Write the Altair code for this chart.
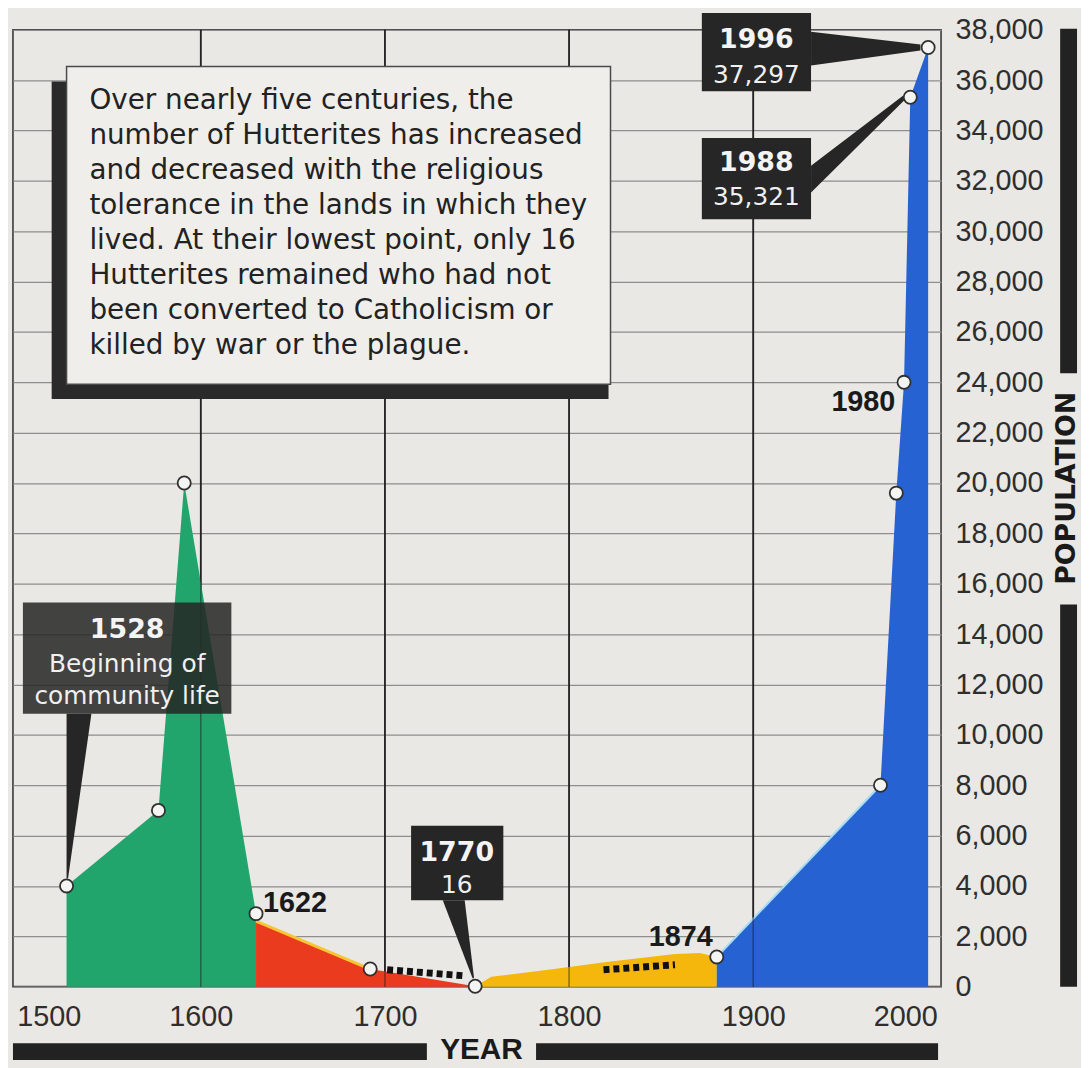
import altair as alt
import pandas as pd

# ---------------- values ----------------
green_year = [1527.1, 1577.0, 1591.0, 1630.0]
green_pop = [4000, 7000, 20000, 2900]

red_year = [1630.0, 1692.0, 1749.0]
red_pop = [2600, 700, 16]

yellow_year = [1749.0, 1757.8, 1792.9, 1821.4, 1857.5, 1871.0, 1880.2]
yellow_pop = [16, 390, 710, 985, 1300, 1340, 1180]

blue_year = [1880.2, 1969.1, 1977.7, 1981.9, 1985.3, 1995.0]
blue_pop = [1180, 8000, 19600, 24000, 35321, 37297]

marker_year = [1527.1, 1577.0, 1591.0, 1630.0, 1692.0, 1749.0,
               1880.2, 1969.1, 1977.7, 1981.9, 1985.3, 1995.0]
marker_pop = [4000, 7000, 20000, 2900, 700, 16,
              1180, 8000, 19600, 24000, 35321, 37297]

# stretches with uncertain data (dotted)
dots1_year = [1701.2, 1742.7]
dots1_pop = [670, 434]
dots2_year = [1818.7, 1857.5]
dots2_pop = [670, 870]

century_lines = [1600, 1700, 1800, 1900]
x_tick_values = [1500, 1600, 1700, 1800, 1900, 2000]
y_tick_values = list(range(0, 38001, 2000))

note_lines = [
    "Over nearly five centuries, the",
    "number of Hutterites has increased",
    "and decreased with the religious",
    "tolerance in the lands in which they",
    "lived. At their lowest point, only 16",
    "Hutterites remained who had not",
    "been converted to Catholicism or",
    "killed by war or the plague.",
]

# callout texts
box_titles = ["1528", "1996", "1988", "1770"]
box_subs = [["Beginning of", "community life"], ["37,297"], ["35,321"], ["16"]]
plain_labels = ["1622", "1874", "1980"]

# ---------------- colours ----------------
GREEN = "#22a56c"
RED = "#ea3b1e"
YELLOW = "#f5b70c"
BLUE = "#2762d3"
DARK = "#262626"
BG = "#e9e8e4"

XS = alt.Scale(domain=[1498, 2002], nice=False, zero=False)
YS = alt.Scale(domain=[0, 38000], nice=False, zero=True)

x_axis = alt.Axis(values=x_tick_values, format="d", labelFlush=6, labelOverlap=False,
                  grid=False, domain=False, ticks=False, labelFont="Liberation Sans",
                  labelFontSize=29, labelColor="#2e2e2e", labelPadding=16, title=None)
y_axis = alt.Axis(orient="right", values=y_tick_values, format=",d", labelOverlap=False,
                  grid=True, gridColor="#8e8e8e", gridWidth=1.3, domain=False, ticks=False,
                  labelFont="Liberation Sans", labelFontSize=29, labelColor="#2e2e2e",
                  labelPadding=14, labelAlign="left", labelBaseline="middle", title=None)


def X(f):
    return alt.X(f, type="quantitative", scale=XS, axis=x_axis)


def Y(f):
    return alt.Y(f, type="quantitative", scale=YS, axis=y_axis, stack=None)


def series(years, pops):
    return pd.DataFrame({"year": years, "pop": pops})


dummy = pd.DataFrame({"k": [0]})
layers = []

# century grid lines (behind)
cent_df = pd.DataFrame({"year": century_lines})
layers.append(alt.Chart(cent_df).mark_rule(color="#2a2a2a", strokeWidth=1.8).encode(x=X("year")))

# areas
for yrs, pops, col in [(green_year, green_pop, GREEN), (red_year, red_pop, RED),
                       (yellow_year, yellow_pop, YELLOW), (blue_year, blue_pop, BLUE)]:
    layers.append(alt.Chart(series(yrs, pops)).mark_area(color=col, opacity=1)
                  .encode(x=X("year"), y=Y("pop")))

# edge highlights
layers.append(alt.Chart(series(red_year[:2], red_pop[:2])).mark_line(color="#f7c634", strokeWidth=3)
              .encode(x=X("year"), y=Y("pop")))
layers.append(alt.Chart(series(blue_year[:2], blue_pop[:2])).mark_line(color="#a6dcf5", strokeWidth=2)
              .encode(x=X("year"), y=Y("pop")))

# century lines showing through the areas
layers.append(alt.Chart(cent_df).mark_rule(color="#1a1a1a", strokeWidth=1.6, opacity=0.45)
              .encode(x=X("year")))

# dotted stretches
for yrs, pops in [(dots1_year, dots1_pop), (dots2_year, dots2_pop)]:
    layers.append(alt.Chart(series(yrs, pops)).mark_line(color="#111111", strokeWidth=7,
                                                        strokeDash=[6, 4], strokeCap="butt")
                  .encode(x=X("year"), y=Y("pop")))

# ---------- explanatory note box (pixel layout) ----------
layers.append(alt.Chart(dummy).mark_rect(color="#2a2a2a").encode(
    x=alt.value(39), x2=alt.value(600), y=alt.value(52), y2=alt.value(372)))
layers.append(alt.Chart(dummy).mark_rect(fill="#efeeea", stroke="#4a4a4a", strokeWidth=1.5).encode(
    x=alt.value(54), x2=alt.value(602), y=alt.value(37), y2=alt.value(357)))
for i, line in enumerate(note_lines):
    layers.append(alt.Chart(dummy).mark_text(text=line, font="DejaVu Sans", fontSize=28,
                                              color="#222222", align="left", baseline="middle")
                  .encode(x=alt.value(77), y=alt.value(72 + 35.2 * i)))

# ---------- callouts (placed in data units) ----------
ptr_h = [  # horizontal wedges: pop, year_left, year_right
    pd.DataFrame({"v": [10840, 4300], "a": [1527.1, 1527.1], "b": [1540.6, 1527.9]}),
    pd.DataFrame({"v": [3429, 330], "a": [1731.4, 1747.6], "b": [1743.3, 1748.4]}),
]
ptr_v = [  # vertical wedges: year, pop_top, pop_bottom
    pd.DataFrame({"a": [1931.4, 1990.8], "v1": [37921, 37420], "v2": [36581, 37180]}),
    pd.DataFrame({"a": [1931.4, 1982.2], "v1": [32600, 35430], "v2": [31535, 35210]}),
]
for df in ptr_h:
    layers.append(alt.Chart(df).mark_area(color=DARK, orient="horizontal", opacity=1).encode(
        y=Y("v"), x=X("a"), x2=alt.X2("b")))
for df in ptr_v:
    layers.append(alt.Chart(df).mark_area(color=DARK, orient="vertical", opacity=1).encode(
        x=X("a"), y=Y("v1"), y2=alt.Y2("v2")))

boxes = pd.DataFrame({
    "x1": [1503.4, 1872.1, 1872.1, 1714.2],
    "x2": [1616.6, 1931.4, 1931.4, 1764.3],
    "y1": [10840, 35556, 30471, 3429],
    "y2": [15255, 38671, 33704, 6386],
    "op": [0.86, 1, 1, 1],
})
layers.append(alt.Chart(boxes).mark_rect(color=DARK).encode(
    x=X("x1"), x2=alt.X2("x2"), y=Y("y1"), y2=alt.Y2("y2"),
    opacity=alt.Opacity("op:Q", scale=None, legend=None)))

title_pos = [(1560.0, 14151), (1901.7, 37606), (1901.7, 32718), (1739.0, 5322)]
sub_pos = [[(1560.0, 12811), (1560.0, 11550)], [(1901.7, 36187)], [(1901.7, 31338)], [(1739.0, 4021)]]
tdf = pd.DataFrame({"year": [p[0] for p in title_pos], "pop": [p[1] for p in title_pos],
                    "label": box_titles})
layers.append(alt.Chart(tdf).mark_text(font="DejaVu Sans", fontWeight="bold", fontSize=27,
                                       color="#f4f4f4", baseline="middle", align="center")
              .encode(x=X("year"), y=Y("pop"), text="label:N"))
srows = []
for subs, poss in zip(box_subs, sub_pos):
    for s, p in zip(subs, poss):
        srows.append({"year": p[0], "pop": p[1], "label": s})
layers.append(alt.Chart(pd.DataFrame(srows)).mark_text(font="DejaVu Sans", fontSize=25,
                                                       color="#f0f0f0", baseline="middle", align="center")
              .encode(x=X("year"), y=Y("pop"), text="label:N"))

# markers
layers.append(alt.Chart(series(marker_year, marker_pop)).mark_point(
    shape="circle", filled=True, fill="#f4f4f2", stroke="#303030", strokeWidth=1.8, size=175, opacity=1)
    .encode(x=X("year"), y=Y("pop")))

# plain year labels
pl = pd.DataFrame({"year": [1633.8], "pop": [3311], "label": [plain_labels[0]]})
layers.append(alt.Chart(pl).mark_text(font="Liberation Sans", fontWeight="bold", fontSize=29,
                                      color="#1a1a1a", align="left", baseline="middle")
              .encode(x=X("year"), y=Y("pop"), text="label:N"))
pr = pd.DataFrame({"year": [1878.0, 1977.2], "pop": [1971, 23218], "label": plain_labels[1:]})
layers.append(alt.Chart(pr).mark_text(font="Liberation Sans", fontWeight="bold", fontSize=29,
                                      color="#1a1a1a", align="right", baseline="middle")
              .encode(x=X("year"), y=Y("pop"), text="label:N"))

# ---------- axis title bars (pixel layout) ----------
for x1, x2, y1, y2 in [(0, 417, 1021, 1038), (527, 932, 1021, 1038),
                       (1055, 1072, -1, 346), (1055, 1072, 579, 964)]:
    layers.append(alt.Chart(dummy).mark_rect(color="#222222").encode(
        x=alt.value(x1), x2=alt.value(x2), y=alt.value(y1), y2=alt.value(y2)))
layers.append(alt.Chart(dummy).mark_text(text="YEAR", font="Liberation Sans", fontWeight="bold",
                                         fontSize=30, color="#1a1a1a", align="center", baseline="middle")
              .encode(x=alt.value(472), y=alt.value(1028)))
layers.append(alt.Chart(dummy).mark_text(text="POPULATION", font="DejaVu Sans", fontWeight="bold",
                                         fontSize=27, color="#1a1a1a", align="center", baseline="middle",
                                         angle=270)
              .encode(x=alt.value(1062), y=alt.value(462)))

chart = alt.layer(*layers).properties(
    width=935, height=964,
    padding={"left": 5, "top": 18, "right": 141, "bottom": 78},
    autosize=alt.AutoSizeParams(type="none"),
    background=BG,
).configure_view(stroke="#3a3a3a", strokeWidth=1.6)

chart.save("out.html", embed_options={"renderer": "svg", "actions": False})
